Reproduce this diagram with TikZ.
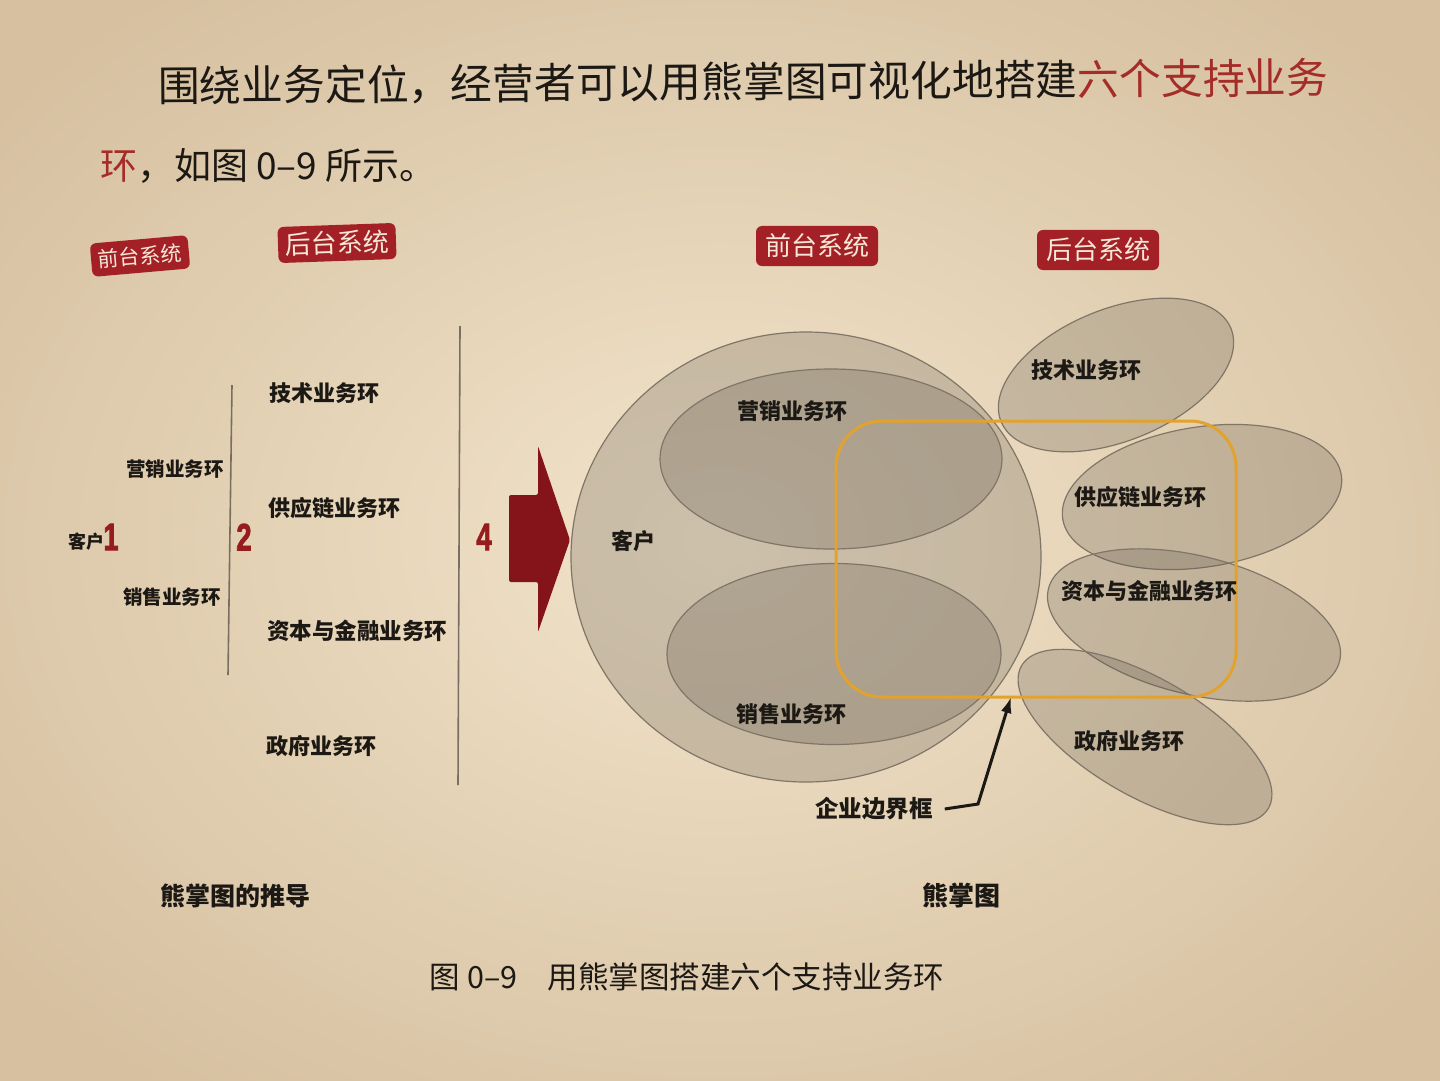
\documentclass[tikz,border=0pt]{standalone}
\usepackage{fontspec}
\setmainfont{Noto Sans CJK SC}
\newfontfamily\numf[FakeBold=2.5]{Liberation Sans}
\usetikzlibrary{shapes.geometric,arrows.meta}
\definecolor{paperL}{RGB}{242,228,203}
\definecolor{paperD}{RGB}{214,192,160}
\definecolor{ink}{RGB}{28,24,20}
\definecolor{badge}{RGB}{163,33,38}
\definecolor{badgetxt}{RGB}{246,232,216}
\definecolor{numred}{RGB}{150,28,30}
\definecolor{arrowred}{RGB}{132,20,25}
\definecolor{titlered}{RGB}{165,45,40}
\definecolor{blobfill}{RGB}{95,88,78}
\definecolor{blobedge}{RGB}{128,118,104}
\definecolor{boxorange}{RGB}{226,162,44}
\definecolor{rule}{RGB}{120,110,98}
\begin{document}
\begin{tikzpicture}[x=1pt,y=-1pt,
  every node/.style={inner sep=0pt,outer sep=0pt},
  lab/.style={font=\fontsize{22}{22}\selectfont\bfseries,text=ink},
  badgebox/.style={fill=badge,rounded corners=6pt,text=badgetxt,inner xsep=7pt,inner ysep=6pt},
  num/.style={text=numred},
  blob/.style={ellipse,draw=blobedge,line width=1.2pt,fill=blobfill,fill opacity=0.25},
  vrule/.style={draw=rule,line width=1.6pt}]
\useasboundingbox (0,0) rectangle (1440,1080);
\shade[inner color=paperL,outer color=paperD] (-200,-150) rectangle (1640,1230);

% --- heading text ---
\node[anchor=west,rotate=0.4,font=\fontsize{41.8}{42}\selectfont,text=ink] (t1) at (158,86)
  {围绕业务定位，经营者可以用熊掌图可视化地搭建\textcolor{titlered}{六个支持业务}};
\node[anchor=west,font=\fontsize{37}{37}\selectfont,text=ink] (t2) at (100,166)
  {\textcolor{titlered}{环}，如图 0–9 所示。};

% --- badges ---
\node[badgebox,rotate=5,font=\fontsize{21}{21}\selectfont,inner ysep=7pt] (fl) at (140,256) {前台系统};
\node[badgebox,rotate=2,font=\fontsize{26}{26}\selectfont] (bl) at (337,243) {后台系统};
\node[badgebox,font=\fontsize{26}{26}\selectfont,inner xsep=9pt,inner ysep=8pt] (fr) at (817,246) {前台系统};
\node[badgebox,font=\fontsize{26}{26}\selectfont,inner xsep=9pt,inner ysep=8pt] (br) at (1098,250) {后台系统};

% --- left derivation ---
\coordinate (r1t) at (232,385); \coordinate (r1b) at (228,675);
\coordinate (r2t) at (460,326); \coordinate (r2b) at (458,785);
\draw[vrule] (r1t) -- (r1b);
\draw[vrule] (r2t) -- (r2b);
\node[font=\fontsize{18}{18}\selectfont\bfseries,text=ink] (lkh) at (86,542) {客户};
\node[num] (n1) at (111,537) {\numf\bfseries\fontsize{38}{38}\selectfont\scalebox{0.72}[1]{1}};
\node[lab,font=\fontsize{19.5}{20}\selectfont\bfseries] (lyx) at (175,469) {营销业务环};
\node[lab,font=\fontsize{19.5}{20}\selectfont\bfseries] (lxs) at (172,597) {销售业务环};
\node[num] (n2) at (244,537) {\numf\bfseries\fontsize{38}{38}\selectfont\scalebox{0.72}[1]{2}};
\node[lab] (ljs) at (324,393) {技术业务环};
\node[lab] (lgy) at (334,508) {供应链业务环};
\node[lab,font=\fontsize{22.5}{23}\selectfont\bfseries] (lzb) at (357,631) {资本与金融业务环};
\node[lab] (lzf) at (321,746) {政府业务环};
\node[num] (n4) at (484,537) {\numf\bfseries\fontsize{38}{38}\selectfont\scalebox{0.72}[1]{4}};

% --- big arrow ---
\fill[arrowred,rounded corners=2pt] (509,495) -- (538,495) -- (538,446) -- (570,540) -- (538,632) -- (538,582) -- (509,582) -- cycle;

% --- bear paw ---
\node[blob,minimum width=470pt,minimum height=450pt] (ekh) at (806,557) {};
\node[blob,minimum width=342pt,minimum height=180pt] (eyx) at (831,459) {};
\node[blob,minimum width=334pt,minimum height=181pt] (exs) at (834,654) {};
\node[blob,minimum width=248pt,minimum height=132pt,rotate=22] (ejs) at (1116,375) {};
\node[blob,minimum width=282pt,minimum height=140pt,rotate=9] (egy) at (1202,497) {};
\node[blob,minimum width=300pt,minimum height=138pt,rotate=-14] (ezb) at (1194,625) {};
\node[blob,minimum width=285pt,minimum height=118pt,rotate=-30] (ezf) at (1145,737) {};

\node[draw=boxorange,line width=3pt,rounded corners=46pt,minimum width=400pt,minimum height=276pt] (ebox) at (1036,559) {};

\node[lab] (rkh) at (633,541) {客户};
\node[lab] (ryx) at (792,411) {营销业务环};
\node[lab] (rxs) at (791,714) {销售业务环};
\node[lab] (rjs) at (1086,370) {技术业务环};
\node[lab] (rgy) at (1140,497) {供应链业务环};
\node[lab] (rzb) at (1149,591) {资本与金融业务环};
\node[lab] (rzf) at (1129,741) {政府业务环};
\node[lab,font=\fontsize{23.5}{24}\selectfont\bfseries] (rbj) at (874,809) {企业边界框};

\coordinate (bend) at (978,804);
\coordinate (tip) at (1011,697);
\draw[line width=3pt,ink,-{Latex[length=16pt,width=11pt]}] ([xshift=12pt]rbj.east) -- (bend) -- (tip);

% --- bottom ---
\node[lab,font=\fontsize{25}{25}\selectfont\bfseries] (cap1) at (235,896) {熊掌图的推导};
\node[lab,font=\fontsize{26}{26}\selectfont\bfseries] (cap2) at (961,896) {熊掌图};
\node[font=\fontsize{30.5}{31}\selectfont,text=ink] (cap) at (687,977) {图 0–9\hspace{30pt}用熊掌图搭建六个支持业务环};
\end{tikzpicture}
\end{document}
